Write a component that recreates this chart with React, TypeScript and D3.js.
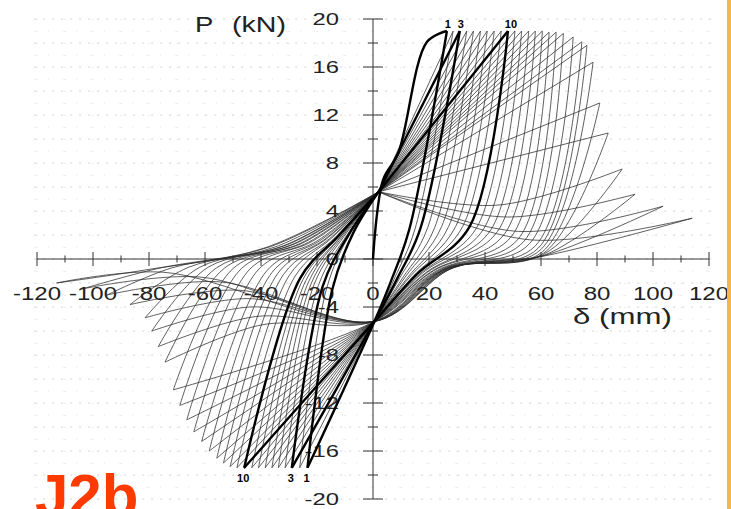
import * as d3 from "d3";

const WIDTH = 731;
const HEIGHT = 509;

// positive peaks of every cycle (mm, kN)
const posPeakD = [26.4, 28.6, 31.0, 33.5, 35.9, 38.4, 40.8, 43.3, 45.8, 48.2, 50.7, 53.1, 55.6, 58.0, 60.5, 62.9, 65.4, 68.0, 71.5, 74.6, 76.4, 78.6, 81.0, 84.0, 89.0, 93.6, 103.6, 114.0];
const posPeakP = [19.0, 19.0, 19.0, 19.0, 19.0, 19.0, 19.0, 19.0, 19.0, 19.0, 19.0, 19.0, 19.0, 19.0, 19.0, 18.9, 18.9, 18.8, 18.5, 18.1, 17.8, 16.4, 13.0, 10.5, 7.5, 5.4, 4.4, 3.4];
// where the unloading from the positive peak bends near the axis
const posKneeD = [13, 15, 17, 19.5, 22, 24.5, 27, 29.5, 32, 34.5, 37, 39.5, 42, 44.5, 47, 49.5, 52, 54, 56, 58, 59, 60, 60.5, 61, 61, 61, 60.5, 60];
const posKneeP = [2.5, 2.5, 2.6, 2.6, 2.6, 2.7, 2.7, 2.7, 2.7, 2.7, 2.6, 2.5, 2.4, 2.3, 2.1, 1.9, 1.7, 1.5, 1.3, 1.1, 0.9, 0.8, 0.6, 0.5, 0.4, 0.3, 0.25, 0.2];
const posBendD = [6.5, 7.5, 8.5, 9.5, 10.5, 11.5, 12.5, 13.5, 14.5, 15.5, 16.5, 17.5, 18.5, 19.5, 20.5, 21.5, 22.5, 23.5, 24.5, 25, 25.5, 26, 26.5, 27, 27.5, 28, 28.5, 29];
const posBendP = [-1.8, -1.7, -1.7, -1.6, -1.6, -1.5, -1.5, -1.4, -1.4, -1.3, -1.3, -1.2, -1.2, -1.1, -1.1, -1.0, -1.0, -0.95, -0.9, -0.9, -0.85, -0.85, -0.8, -0.8, -0.8, -0.75, -0.75, -0.7];
// reloading passes low for the degraded cycles
const posViaD = [null, null, null, null, null, null, null, null, null, null, null, null, null, null, null, null, null, null, null, null, null, null, null, null, 45, 48, 52, 56];
const posViaP = [null, null, null, null, null, null, null, null, null, null, null, null, null, null, null, null, null, null, null, null, null, null, null, null, 4.5, 3.5, 2.3, 1.6];

// negative peaks
const negPeakD = [-23.4, -26.2, -29.0, -31.4, -33.8, -36.1, -38.5, -40.9, -43.3, -46.0, -48.6, -51.0, -53.4, -55.8, -58.5, -61.2, -64.0, -66.5, -69.0, -71.3, -74.3, -76.7, -79.0, -81.4, -86.8, -95.0, -104.0, -113.0];
const negPeakP = [-17.4, -17.4, -17.4, -17.4, -17.4, -17.4, -17.4, -17.4, -17.4, -17.4, -17.4, -17.3, -17.0, -16.6, -16.0, -15.2, -14.4, -13.4, -12.2, -10.9, -8.6, -7.3, -6.0, -4.9, -3.8, -3.0, -2.5, -2.0];
const negKneeD = [-14.5, -16.5, -18, -19.5, -21, -22, -23, -24, -25, -26, -28, -30, -32, -34, -36, -38, -41, -44, -47, -50, -53, -56, -59, -62, -66, -72, -77, -81];
const negKneeP = [-2.5, -2.4, -2.3, -2.2, -2.1, -2.0, -1.9, -1.8, -1.7, -1.6, -1.5, -1.4, -1.3, -1.2, -1.1, -1.0, -0.9, -0.85, -0.8, -0.8, -0.75, -0.75, -0.7, -0.7, -0.7, -0.75, -0.8, -0.9];
const negBendD = [-7, -8, -8.5, -9, -10, -10.5, -11, -11.5, -12, -12.5, -13.5, -14.5, -15.5, -16.5, -17.5, -18.5, -20, -21.5, -23, -24.5, -26, -27.5, -29, -30.5, -32, -35, -37, -39];
const negBendP = [2.2, 2.2, 2.1, 2.1, 2.0, 2.0, 2.0, 1.9, 1.9, 1.9, 1.8, 1.8, 1.7, 1.7, 1.6, 1.6, 1.5, 1.5, 1.4, 1.4, 1.3, 1.3, 1.2, 1.2, 1.1, 1.0, 1.0, 0.9];
const negViaD = [null, null, null, null, null, null, null, null, null, null, null, null, null, null, null, null, null, null, null, null, -40, -42, -44, -45, -48, -55, -62, -75];
const negViaP = [null, null, null, null, null, null, null, null, null, null, null, null, null, null, null, null, null, null, null, null, -5.5, -4.8, -4.0, -3.3, -2.6, -1.9, -1.5, -1.1];

// first loading from rest
const initLoadD = [0, 3.6, 9, 19.3];
const initLoadP = [0, 6.6, 8.8, 18.1];

// pinching points all cycles pass through
const pivotUp: [number, number] = [2, 5.6];
const pivotDown: [number, number] = [0.5, -5.2];

const boldCycles = [1, 3, 10];

const xTickValues = [-120, -100, -80, -60, -40, -20, 0, 20, 40, 60, 80, 100, 120];
const xTickLabels = ["-120", "-100", "-80", "-60", "-40", "-20", "0", "20", "40", "60", "80", "100", "120"];
const yTickValues = [20, 16, 12, 8, 4, 0, -4, -8, -12, -16, -20];
const yTickLabels = ["20", "16", "12", "8", "4", "0", "-4", "-8", "-12", "-16", "-20"];

const FONT = "'Liberation Sans', Arial, Helvetica, sans-serif";

function App() {
  const x = d3.scaleLinear().domain([-120, 120]).range([37, 709]);
  const y = d3.scaleLinear().domain([-20, 20]).range([499, 19]);
  const line = d3
    .line<[number, number]>()
    .x((d) => x(d[0]))
    .y((d) => y(d[1]))
    .curve(d3.curveCatmullRom.alpha(0.5));

  const cycles = posPeakD.map((_, i) => {
    const load: [number, number][] =
      i === 0 ? initLoadD.map((d, j) => [d, initLoadP[j]] as [number, number]) : [pivotUp];
    if (posViaD[i] != null) load.push([posViaD[i] as number, posViaP[i] as number]);
    load.push([posPeakD[i], posPeakP[i]]);

    const down: [number, number][] = [
      [posPeakD[i], posPeakP[i]],
      [posKneeD[i], posKneeP[i]],
      [posBendD[i], posBendP[i]],
      pivotDown,
    ];
    if (negViaD[i] != null) down.push([negViaD[i] as number, negViaP[i] as number]);
    down.push([negPeakD[i], negPeakP[i]]);

    const up: [number, number][] = [
      [negPeakD[i], negPeakP[i]],
      [negKneeD[i], negKneeP[i]],
      [negBendD[i], negBendP[i]],
      pivotUp,
    ];
    return { n: i + 1, load, down, up };
  });

  const thin = cycles.filter((c) => !boldCycles.includes(c.n));
  const bold = cycles.filter((c) => boldCycles.includes(c.n));

  const gridX = d3.range(-120, 121, 10);
  const gridY = d3.range(-20, 21, 1);
  const minorX = d3.range(-110, 120, 20);
  const minorY = d3.range(-18, 20, 4);

  return (
    <svg
      width={WIDTH}
      height={HEIGHT}
      style={{ position: "absolute", left: 0, top: 0, background: "#fff" }}
      fontFamily={FONT}
    >
      <rect width={WIDTH} height={HEIGHT} fill="#fff" />

      {/* dotted grid */}
      <g>
        {gridY.map((v) => (
          <line
            key={"gy" + v}
            x1={x(-121)}
            x2={x(121)}
            y1={y(v)}
            y2={y(v)}
            stroke={v % 2 === 0 ? "#c6c6c6" : "#d6d6d6"}
            strokeWidth={0.8}
            strokeDasharray={v % 2 === 0 ? "2,7" : "1,13"}
          />
        ))}
        {gridX.map((v) => (
          <line
            key={"gx" + v}
            x1={x(v)}
            x2={x(v)}
            y1={y(20)}
            y2={y(-20)}
            stroke="#d0d0d0"
            strokeWidth={0.8}
            strokeDasharray="1,11"
          />
        ))}
      </g>

      {/* axes */}
      <g stroke="#333" strokeWidth={1}>
        <line x1={x(-120)} x2={x(120)} y1={y(0)} y2={y(0)} />
        <line x1={x(0)} x2={x(0)} y1={y(20)} y2={y(-20)} />
        {xTickValues.map((v) => (
          <line key={"xt" + v} x1={x(v)} x2={x(v)} y1={y(0) - 7} y2={y(0) + 7} />
        ))}
        {minorX.map((v) => (
          <line key={"xm" + v} x1={x(v)} x2={x(v)} y1={y(0) - 3.5} y2={y(0) + 3.5} />
        ))}
        {yTickValues.map((v) => (
          <line key={"yt" + v} x1={x(0) - 10} x2={x(0) + 10} y1={y(v)} y2={y(v)} />
        ))}
        {minorY.map((v) => (
          <line key={"ym" + v} x1={x(0) - 5} x2={x(0) + 5} y1={y(v)} y2={y(v)} />
        ))}
      </g>

      {/* tick labels */}
      <g fill="#222" fontSize={18.5}>
        {xTickValues.map((v, i) => (
          <text key={"xl" + v} transform={`translate(${x(v)},300) scale(1.3,1)`} textAnchor="middle">
            {xTickLabels[i]}
          </text>
        ))}
      </g>
      <g fill="#222" fontSize={17}>
        {yTickValues.map((v, i) => (
          <text key={"yl" + v} transform={`translate(339,${y(v) + 6}) scale(1.4,1)`} textAnchor="end">
            {yTickLabels[i]}
          </text>
        ))}
      </g>

      {/* hysteresis loops */}
      <g fill="none" stroke="#2a2a2a" strokeWidth={0.75} strokeLinejoin="miter">
        {thin.map((c) => (
          <g key={"c" + c.n}>
            <path d={line(c.load) || ""} />
            <path d={line(c.down) || ""} />
            <path d={line(c.up) || ""} />
          </g>
        ))}
      </g>
      <g fill="none" stroke="#000" strokeWidth={2.4} strokeLinejoin="round">
        {bold.map((c) => (
          <g key={"b" + c.n}>
            <path d={line(c.load) || ""} />
            <path d={line(c.down) || ""} />
            <path d={line(c.up) || ""} />
          </g>
        ))}
      </g>

      {/* cycle labels */}
      <g fill="#000" fontSize={11} fontWeight="bold" textAnchor="middle">
        {bold.map((c) => (
          <text key={"tl" + c.n} x={x(posPeakD[c.n - 1]) + (c.n === 10 ? 3 : 1)} y={y(posPeakP[c.n - 1]) - 3}>
            {c.n}
          </text>
        ))}
        {bold.map((c) => (
          <text key={"bl" + c.n} x={x(negPeakD[c.n - 1]) - 1} y={y(negPeakP[c.n - 1]) + 14}>
            {c.n}
          </text>
        ))}
      </g>

      {/* axis titles */}
      <g fill="#222" fontSize={22}>
        <text transform="translate(195,32) scale(1.25,1)">P</text>
        <text transform="translate(232,32) scale(1.3,1)">(kN)</text>
        <text transform="translate(573,324) scale(1.42,1)">δ (mm)</text>
      </g>

      <text x={35} y={516} fill="#ff3a00" fontSize={60} fontWeight="bold">
        J2b
      </text>

      <rect x={727} y={0} width={4} height={HEIGHT} fill="#f6b64a" />
    </svg>
  );
}

export default App;
